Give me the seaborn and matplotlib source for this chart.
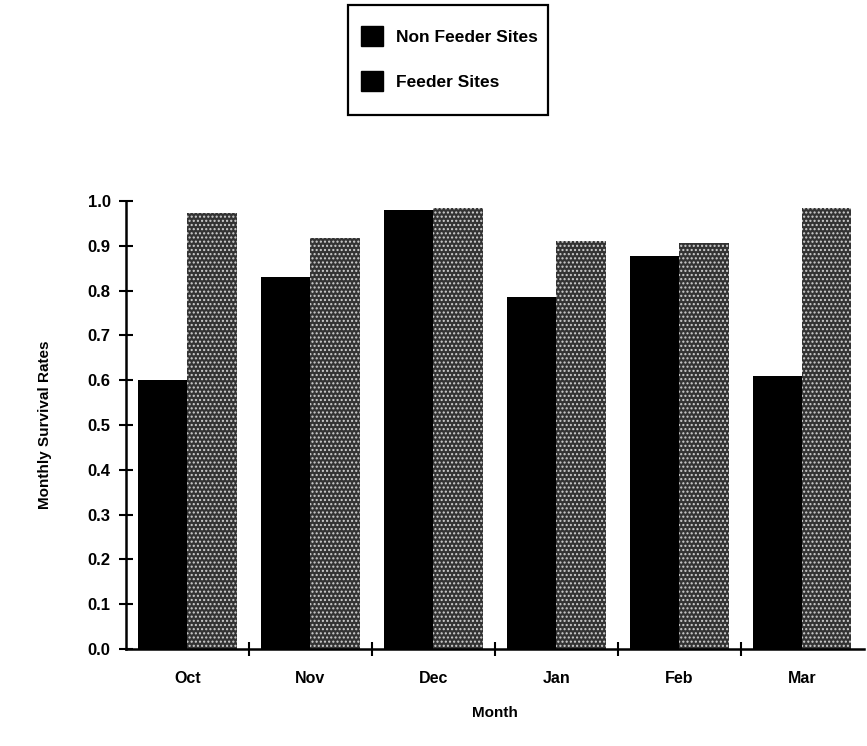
"""
Monthly survival rates at feeder vs non-feeder sites
"""

import matplotlib
matplotlib.use("Agg")
import matplotlib.pyplot as plt
from matplotlib.patches import Patch, Rectangle
import seaborn as sns
import pandas as pd
import numpy as np

months = ['Oct', 'Nov', 'Dec', 'Jan', 'Feb', 'Mar']
non_feeder = [0.60, 0.83, 0.98, 0.785, 0.877, 0.61]
feeder = [0.973, 0.918, 0.985, 0.911, 0.907, 0.984]
series = ['Non Feeder Sites', 'Feeder Sites']
y_ticks = [0.0, 0.1, 0.2, 0.3, 0.4, 0.5, 0.6, 0.7, 0.8, 0.9, 1.0]

sns.set_style("ticks")
plt.rcParams['font.family'] = ['Liberation Sans', 'DejaVu Sans']
plt.rcParams['hatch.linewidth'] = 1.0
plt.rcParams['text.color'] = 'black'
plt.rcParams['axes.labelcolor'] = 'black'
plt.rcParams['xtick.color'] = 'black'
plt.rcParams['ytick.color'] = 'black'

df = pd.DataFrame({
    'Month': months * 2,
    'Rate': non_feeder + feeder,
    'Site': [series[0]] * len(months) + [series[1]] * len(months),
})

W, H = 867, 746
fig = plt.figure(figsize=(W / 100, H / 100), dpi=100)
ax = fig.add_axes([0.1453, 0.130, 0.851, 0.6006])

sns.barplot(data=df, x='Month', y='Rate', hue='Site', order=months,
            hue_order=series, palette=['black', '#333333'], width=0.8,
            saturation=1, ax=ax, legend=False)

# dotted texture on the feeder bars
for bar in ax.containers[1]:
    bar.set_hatch('....')
    bar.set_edgecolor('#d0d0d0')
    bar.set_linewidth(0)
for bar in ax.containers[0]:
    bar.set_linewidth(0)

ax.set_xlim(-0.5, len(months) - 0.5)
ax.set_ylim(0, 1.0)
ax.set_yticks(y_ticks)
ax.set_yticklabels([f'{t:.1f}' for t in y_ticks], fontsize=12, fontweight='bold')
ax.set_xticks(range(len(months)))
ax.set_xticklabels(months, fontsize=11.5, fontweight='bold')
ax.tick_params(axis='x', which='major', length=0, pad=16)
ax.set_xticks(np.arange(0.5, len(months) - 0.5, 1), minor=True)
ax.tick_params(axis='x', which='minor', bottom=True, direction='inout', length=10, width=1.5)
ax.tick_params(axis='y', left=True, direction='inout', length=10, width=1.5, pad=6)

for side in ['top', 'right']:
    ax.spines[side].set_visible(False)
for side in ['left', 'bottom']:
    ax.spines[side].set_linewidth(1.8)
    ax.spines[side].set_color('black')

ax.set_xlabel('Month', fontsize=11, fontweight='bold', labelpad=14)
ax.set_ylabel('Monthly Survival Rates', fontsize=11, fontweight='bold', labelpad=26)

# legend box drawn separately so its margins can follow the reference
fig.patches.append(Rectangle((348 / W, 1 - 115 / H), 200 / W, 110 / H,
                             transform=fig.transFigure, fill=False,
                             edgecolor='black', linewidth=1.6))
handles = [Patch(facecolor='black', edgecolor='black'),
           Patch(facecolor='black', edgecolor='black')]
leg = fig.legend(handles, series, loc='upper left',
                 bbox_to_anchor=(361 / W, 1 - 26 / H),
                 frameon=False, fontsize=12.5,
                 handlelength=1.25, handleheight=1.4, labelspacing=1.45,
                 borderpad=0, handletextpad=0.75, borderaxespad=0)
for t in leg.get_texts():
    t.set_fontweight('bold')

fig.savefig('out.png', dpi=100)
